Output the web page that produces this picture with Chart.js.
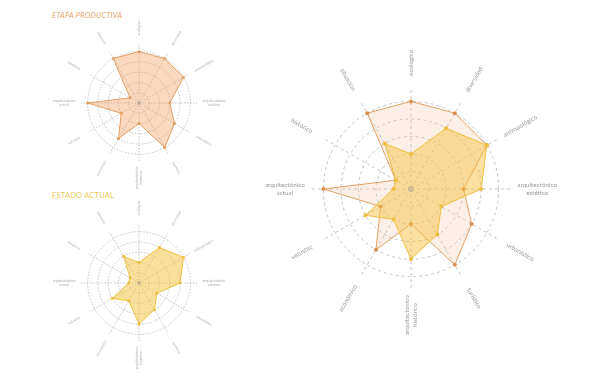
<!DOCTYPE html>
<html>
<head>
<meta charset="utf-8">
<script src="https://cdn.jsdelivr.net/npm/chart.js@4.4.1/dist/chart.umd.min.js"></script>
<style>
  html, body { margin: 0; padding: 0; background: #fff; }
  #page { position: relative; width: 600px; height: 375px; overflow: hidden; font-family: Lato, "Open Sans", sans-serif; }
  canvas { position: absolute; }
  .ttl { position: absolute; font-size: 7.5px; letter-spacing: 0.2px; white-space: nowrap; }
</style>
</head>
<body>
<div id="page">
  <div class="ttl" style="left:52px;top:11px;color:#e9a56a;font-style:italic;">ETAPA PRODUCTIVA</div>
  <div class="ttl" style="left:52px;top:191px;color:#efc957;">ESTADO ACTUAL</div>
  <canvas id="etapa" width="200" height="200" style="left:39px;top:3px;"></canvas>
  <canvas id="estado" width="200" height="200" style="left:39px;top:183px;"></canvas>
  <canvas id="big" width="360" height="300" style="left:231px;top:39px;"></canvas>
</div>
<script>
// axes, clockwise from the top
const axisLabels = [
  "ecológico", "diversidad", "antropológico", ["arquitectónico", "estético"], "urbanístico", "turístico",
  ["arquitectónico", "histórico"], "económico", "vetustez", ["arquitectónico", "actual"], "histórico", "situación"
];
const etapaProductiva = [5, 5, 5, 3, 4, 5, 2, 4, 2, 5, 1, 5];
const estadoActual = [2, 4, 5, 4, 2, 3, 4, 2, 3, 1, 1, 3];
const ringValues = [1, 2, 3, 4, 5];

const ORANGE = "#e3a064";
const YELLOW = "#ecc03e";

// rotated labels along each axis (left half flipped so it reads)
const radialLabels = {
  id: "radialLabels",
  afterDatasetsDraw(chart, args, opts) {
    const s = chart.scales.r;
    const ctx = chart.ctx;
    ctx.save();
    ctx.fillStyle = opts.color;
    ctx.font = opts.size + "px Lato, 'Open Sans', sans-serif";
    ctx.textAlign = "center";
    ctx.textBaseline = "middle";
    chart.data.labels.forEach((lab, i) => {
      const a = s.getIndexAngle(i);
      const p = s.getPointPosition(i, s.getDistanceFromCenterForValue(opts.at));
      let rot = a - Math.PI / 2;
      if (a > Math.PI - 0.01) rot += Math.PI;
      const lines = Array.isArray(lab) ? lab : [lab];
      ctx.save();
      ctx.translate(p.x, p.y);
      ctx.rotate(rot);
      lines.forEach((t, k) => {
        ctx.fillText(t, 0, (k - (lines.length - 1) / 2) * opts.size * 1.15);
      });
      ctx.restore();
    });
    // small ring in the middle
    ctx.beginPath();
    ctx.strokeStyle = "#a8a8a8";
    ctx.lineWidth = 0.8;
    ctx.arc(s.xCenter, s.yCenter, opts.dot, 0, Math.PI * 2);
    ctx.stroke();
    ctx.restore();
  }
};

const radarScale = (dash) => ({
  r: {
    min: 0,
    max: 5.65,
    afterBuildTicks: s => { s.ticks = [0, ...ringValues].map(v => ({ value: v })); },
    ticks: { display: false },
    pointLabels: { display: false },
    grid: { circular: true, color: "#b4b4b4", lineWidth: 0.8 },
    border: { dash: dash },
    angleLines: { color: "#b4b4b4", lineWidth: 0.8, borderDash: dash }
  }
});

const makeRadar = (id, datasets, pad, dash, labelOpts) => new Chart(document.getElementById(id), {
  type: "radar",
  data: { labels: axisLabels, datasets },
  options: {
    responsive: false,
    animation: false,
    devicePixelRatio: 1,
    layout: { padding: pad },
    scales: radarScale(dash),
    plugins: { legend: { display: false }, tooltip: { enabled: false }, radialLabels: labelOpts }
  },
  plugins: [radialLabels]
});

makeRadar("etapa", [{
  data: etapaProductiva,
  borderColor: ORANGE, borderWidth: 1,
  backgroundColor: "rgba(243,165,105,0.42)",
  pointRadius: 1.5, pointBackgroundColor: ORANGE, pointBorderWidth: 0
}], 42, [1.5, 1.5], { at: 7.3, size: 3.6, color: "#ababab", dot: 1.5 });

makeRadar("estado", [{
  data: estadoActual,
  borderColor: YELLOW, borderWidth: 1,
  backgroundColor: "rgba(246,200,72,0.55)",
  pointRadius: 1.5, pointBackgroundColor: YELLOW, pointBorderWidth: 0
}], 42, [1.5, 1.5], { at: 7.3, size: 3.6, color: "#ababab", dot: 1.5 });

makeRadar("big", [{
  data: estadoActual,
  borderColor: YELLOW, borderWidth: 1,
  backgroundColor: "rgba(246,196,70,0.5)",
  pointRadius: 2, pointBackgroundColor: YELLOW, pointBorderWidth: 0
}, {
  data: etapaProductiva,
  borderColor: ORANGE, borderWidth: 1,
  backgroundColor: "rgba(245,190,150,0.25)",
  pointRadius: 2, pointBackgroundColor: "#d98f4f", pointBorderWidth: 0
}], { left: 81, right: 81, top: 51, bottom: 51 }, [3, 3], { at: 7.2, size: 6.3, color: "#999999", dot: 2.5 });
</script>
</body>
</html>
